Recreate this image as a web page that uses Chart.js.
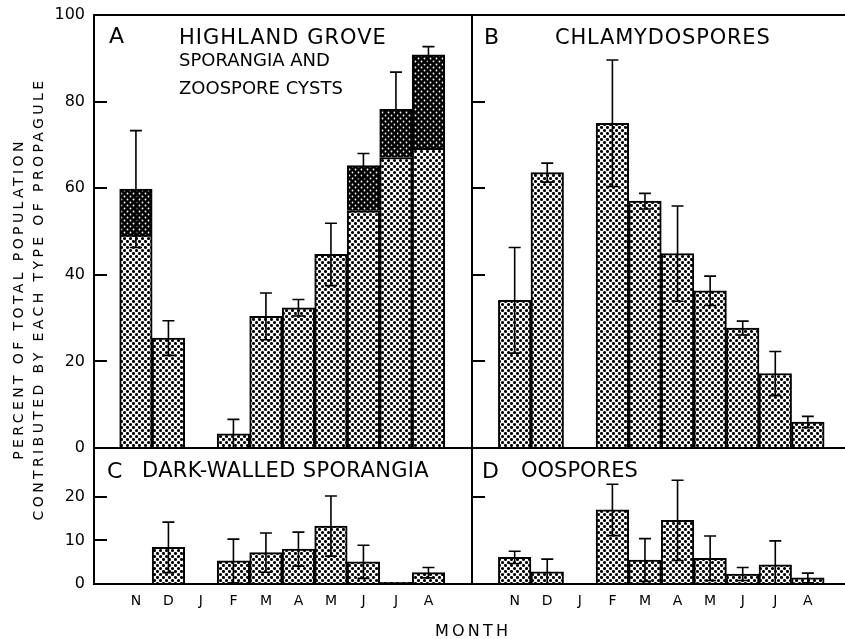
<!DOCTYPE html>
<html>
<head>
<meta charset="utf-8">
<script src="https://cdn.jsdelivr.net/npm/chart.js@4.4.1/dist/chart.umd.min.js"></script>
<style>
  body { margin: 0; background: #fff; }
  #wrap { position: relative; width: 845px; height: 639px; overflow: hidden;
          font-family: "DejaVu Sans", sans-serif; color: #000; background: #fff; }
  #wrap canvas { position: absolute; left: 0; top: 0; }
  .lbl { position: absolute; white-space: nowrap; line-height: 1; }
  #ytitle { position: absolute; left: 28px; top: 299px; width: 560px; height: 40px;
            margin-left: -280px; margin-top: -20px; transform: rotate(-90deg);
            text-align: center; font-size: 14px; line-height: 20px; letter-spacing: 3.4px; }
</style>
</head>
<body>
<div id="wrap">
  <canvas id="chartA" width="845" height="639"></canvas>
  <canvas id="chartB" width="845" height="639"></canvas>
  <canvas id="chartC" width="845" height="639"></canvas>
  <canvas id="chartD" width="845" height="639"></canvas>

  <div class="lbl" style="left:109px;top:25px;font-size:22px">A</div>
  <div class="lbl" style="left:179px;top:27px;font-size:21px;letter-spacing:1px">HIGHLAND GROVE</div>
  <div class="lbl" style="left:179px;top:51px;font-size:18px">SPORANGIA AND</div>
  <div class="lbl" style="left:179px;top:79px;font-size:18px">ZOOSPORE CYSTS</div>
  <div class="lbl" style="left:484px;top:26px;font-size:22px">B</div>
  <div class="lbl" style="left:555px;top:27px;font-size:21px;letter-spacing:0.8px">CHLAMYDOSPORES</div>
  <div class="lbl" style="left:107px;top:460px;font-size:22px">C</div>
  <div class="lbl" style="left:142px;top:460px;font-size:21px;letter-spacing:0.35px">DARK-WALLED SPORANGIA</div>
  <div class="lbl" style="left:482px;top:460px;font-size:22px">D</div>
  <div class="lbl" style="left:521px;top:460px;font-size:21px">OOSPORES</div>
  <div class="lbl" style="left:435px;top:623px;font-size:16px;letter-spacing:3.2px">MONTH</div>
  <div id="ytitle">PERCENT OF TOTAL POPULATION<br>CONTRIBUTED BY EACH TYPE OF PROPAGULE</div>
</div>
<script>
// months from November to August
const months = ['N', 'D', 'J', 'F', 'M', 'A', 'M', 'J', 'J', 'A'];
const yTicksTop = [0, 20, 40, 60, 80, 100];
const yTicksBottom = [0, 10, 20];
const innerTicksTop = [20, 40, 60, 80];
const innerTicksC = [10, 20];
const innerTicksD = [20];

// A: sporangia (light) and zoospore cysts (dark), error about the total
const groveLight = [49.2, 25.4, null, 3.3, 30.4, 32.4, 44.7, 54.8, 67.1, 69.2];
const groveDark = [10.6, null, null, null, null, null, null, 10.4, 11.1, 21.6];
const groveErr = [13.5, 4.0, null, 3.3, 5.4, 1.9, 7.2, 2.8, 8.6, 1.9];
// B
const chlamy = [34.1, 63.6, null, 75.0, 57.0, 44.9, 36.3, 27.7, 17.2, 6.0];
const chlamyErr = [12.2, 2.2, null, 14.6, 1.8, 11.0, 3.4, 1.6, 5.1, 1.3];
// C
const darkWalled = [null, 8.4, null, 5.3, 7.2, 8.0, 13.3, 5.1, 0.4, 2.6];
const darkWalledErr = [null, 5.8, null, 5.0, 4.5, 3.9, 6.9, 3.8, null, 1.2];
// D
const oospores = [6.1, 2.8, null, 17.0, 5.5, 14.6, 5.9, 2.3, 4.4, 1.4];
const oosporesErr = [1.4, 2.9, null, 5.9, 4.9, 9.2, 5.1, 1.5, 5.5, 1.1];

Chart.defaults.font.family = '"DejaVu Sans", sans-serif';
Chart.defaults.color = '#000';

function makePattern(dark) {
	const c = document.createElement('canvas');
	c.width = 6;
	c.height = 6;
	const g = c.getContext('2d');
	g.fillStyle = dark ? '#000' : '#fff';
	g.fillRect(0, 0, 6, 6);
	g.fillStyle = dark ? '#fff' : '#000';
	[[1.5, 1.5], [4.5, 4.5]].forEach(([x, y]) => {
		g.beginPath();
		g.arc(x, y, dark ? 0.9 : 1.55, 0, Math.PI * 2);
		g.fill();
	});
	return g.createPattern(c, 'repeat');
}
const lightFill = makePattern(false);
const darkFill = makePattern(true);

const toPoints = ( arr ) => arr.map( ( v, i ) => ( { x: i, y: v } ) );

// frame lines and inward tick marks of each panel
const framePlugin = {
	id: 'panelFrame',
	afterDraw( chart, args, opts ) {
		const { ctx, chartArea: a } = chart;
		const y = chart.scales.y;
		ctx.save();
		ctx.strokeStyle = '#000';
		ctx.lineWidth = 2;
		ctx.lineCap = 'square';
		ctx.beginPath();
		if ( opts.top ) { ctx.moveTo( a.left, a.top ); ctx.lineTo( a.right, a.top ); }
		if ( opts.bottom ) { ctx.moveTo( a.left, a.bottom ); ctx.lineTo( a.right, a.bottom ); }
		if ( opts.left ) { ctx.moveTo( a.left, a.top ); ctx.lineTo( a.left, a.bottom ); }
		if ( opts.right ) { ctx.moveTo( a.right, a.top ); ctx.lineTo( a.right, a.bottom ); }
		( opts.ticks || [] ).forEach( ( v ) => {
			const py = Math.round( y.getPixelForValue( v ) );
			ctx.moveTo( a.left, py );
			ctx.lineTo( a.left + 12, py );
		} );
		ctx.stroke();
		ctx.restore();
	}
};

const errorBarPlugin = {
	id: 'errorBars',
	afterDatasetsDraw( chart ) {
		const { ctx } = chart;
		const xs = chart.scales.x;
		const ys = chart.scales.y;
		ctx.save();
		ctx.strokeStyle = '#000';
		ctx.lineWidth = 1.6;
		chart.data.datasets.forEach( ( ds ) => {
			if ( ! ds.errors ) {
				return;
			}
			ds.errors.forEach( ( err, i ) => {
				if ( err === null ) {
					return;
				}
				const total = chart.data.datasets.reduce( ( s, d ) => s + ( d.data[ i ].y || 0 ), 0 );
				const x = xs.getPixelForValue( i );
				const yHi = ys.getPixelForValue( total + err );
				const yLo = ys.getPixelForValue( Math.max( total - err, 0 ) );
				ctx.beginPath();
				ctx.moveTo( x, yHi );
				ctx.lineTo( x, yLo );
				ctx.moveTo( x - 6, yHi );
				ctx.lineTo( x + 6, yHi );
				ctx.moveTo( x - 6, yLo );
				ctx.lineTo( x + 6, yLo );
				ctx.stroke();
			} );
		} );
		ctx.restore();
	}
};

function makeChart( id, cfg ) {
	const xAxis = {
		type: 'linear',
		min: cfg.xRange[0],
		max: cfg.xRange[1],
		offset: false,
		stacked: true,
		display: cfg.showMonths,
		grid: { display: false, drawTicks: false, offset: false },
		border: { display: false },
		afterBuildTicks: ( s ) => { s.ticks = months.map( ( m, i ) => ( { value: i } ) ); },
		ticks: {
			autoSkip: false,
			maxRotation: 0,
			padding: 9,
			font: { size: 14 },
			callback: ( v ) => months[ v ],
		},
	};
	if ( cfg.showMonths ) {
		xAxis.afterFit = ( s ) => {
			s.height = 55;
			s.paddingLeft = 0;
			s.paddingRight = 0;
		};
	}
	const yAxis = {
		min: 0,
		max: cfg.yMax,
		stacked: true,
		display: !! cfg.yTicks,
		grid: { display: false, drawTicks: false },
		border: { display: false },
		ticks: { padding: 9, font: { size: 16 } },
	};
	if ( cfg.yTicks ) {
		yAxis.afterBuildTicks = ( s ) => { s.ticks = cfg.yTicks.map( ( v ) => ( { value: v } ) ); };
		yAxis.afterFit = ( s ) => {
			s.width = 94;
			s.paddingTop = 0;
			s.paddingBottom = 0;
		};
	}
	return new Chart( document.getElementById( id ), {
		type: 'bar',
		data: { datasets: cfg.datasets },
		options: {
			responsive: false,
			animation: false,
			devicePixelRatio: 1,
			layout: { padding: cfg.padding },
			datasets: {
				bar: {
					barPercentage: 1,
					categoryPercentage: 1,
					borderColor: '#000',
					borderWidth: 2,
					borderSkipped: 'start',
				}
			},
			plugins: {
				legend: { display: false },
				tooltip: { enabled: false },
				panelFrame: cfg.frame,
			},
			scales: { x: xAxis, y: yAxis },
		},
		plugins: [ framePlugin, errorBarPlugin ],
	} );
}

makeChart( 'chartA', {
	padding: { left: 0, top: 15, right: 373, bottom: 191 },
	xRange: [ -1.29, 10.34 ],
	yMax: 100,
	yTicks: yTicksTop,
	showMonths: false,
	frame: { top: true, left: true, right: true, bottom: true, ticks: innerTicksTop },
	datasets: [
		{ data: toPoints( groveLight ), backgroundColor: lightFill, errors: groveErr },
		{ data: toPoints( groveDark ), backgroundColor: darkFill },
	],
} );

makeChart( 'chartB', {
	padding: { left: 472, top: 15, right: 0, bottom: 191 },
	xRange: [ -1.31, 10.14 ],
	yMax: 100,
	yTicks: null,
	showMonths: false,
	frame: { top: true, left: true, bottom: true, ticks: innerTicksTop },
	datasets: [
		{ data: toPoints( chlamy ), backgroundColor: lightFill, errors: chlamyErr },
	],
} );

makeChart( 'chartC', {
	padding: { left: 0, top: 448, right: 373, bottom: 0 },
	xRange: [ -1.29, 10.34 ],
	yMax: 31.2,
	yTicks: yTicksBottom,
	showMonths: true,
	frame: { left: true, right: true, bottom: true, ticks: innerTicksC },
	datasets: [
		{ data: toPoints( darkWalled ), backgroundColor: lightFill, errors: darkWalledErr },
	],
} );

makeChart( 'chartD', {
	padding: { left: 472, top: 448, right: 0, bottom: 0 },
	xRange: [ -1.31, 10.14 ],
	yMax: 31.2,
	yTicks: null,
	showMonths: true,
	frame: { left: true, bottom: true, ticks: innerTicksD },
	datasets: [
		{ data: toPoints( oospores ), backgroundColor: lightFill, errors: oosporesErr },
	],
} );
</script>
</body>
</html>
